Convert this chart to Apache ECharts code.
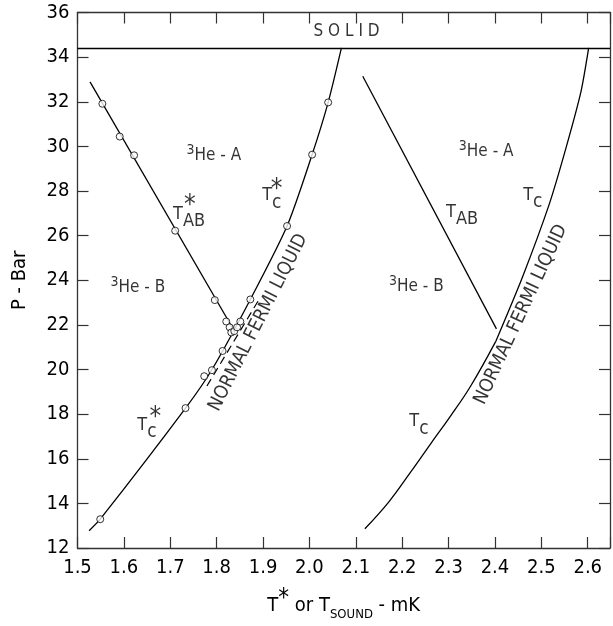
<!DOCTYPE html>
<html>
<head>
<meta charset="utf-8">
<script src="https://cdn.jsdelivr.net/npm/echarts@6/dist/echarts.min.js"></script>
<style>
  html, body { margin: 0; padding: 0; background: #fff; }
  #chart { width: 613px; height: 626px; }
</style>
</head>
<body>
<div id="chart"></div>
<script>
// phase diagram of 3He: P (bar) against T* or T_sound (mK)
var solidP = 34.41;

var tabStarLine = [[1.527, 32.89], [1.8365, 21.78]];
var tcStarLine = [
  [1.525, 12.77], [1.549, 13.29], [1.733, 18.27], [1.79, 20.0],
  [1.8726, 23.14], [1.9518, 26.43], [2.0058, 29.63], [2.0404, 31.97], [2.069, 34.41]
];
var dashedLine = [[1.779, 19.26], [1.894, 23.23]];
var measured = [
  [1.5536, 31.91], [1.591, 30.44], [1.622, 29.6], [1.7106, 26.22], [1.796, 23.11],
  [1.8207, 22.15], [1.828, 21.89], [1.8315, 21.66], [1.838, 21.72], [1.844, 21.89],
  [1.851, 22.15], [1.8726, 23.14], [1.9518, 26.43], [2.0058, 29.63], [2.0404, 31.97],
  [1.8128, 20.83], [1.7898, 19.97], [1.7732, 19.70], [1.7329, 18.27], [1.549, 13.29]
];

var tabLine = [[2.115, 33.14], [2.4032, 21.82]];
var tcLowLine = [
  [2.1195, 12.86], [2.1713, 14.07], [2.2181, 15.40], [2.2613, 16.67],
  [2.3045, 17.92], [2.3477, 19.26], [2.4017, 21.26]
];
var tcHighLine = [
  [2.4017, 21.26], [2.4594, 24.15], [2.5169, 27.40], [2.553, 29.92], [2.5853, 32.44], [2.602, 34.41]
];

// annotation anchors [T, P, which text]
var textSpots = [
  [2.080, 35.15, 'solid'],
  [1.794, 29.58, 'heA'], [2.381, 29.76, 'heA'],
  [1.630, 23.68, 'heB'], [2.2306, 23.72, 'heB'],
  [1.7406, 26.80, 'tAB'], [2.3292, 26.90, 'tAB'],
  [1.919, 27.63, 'tc'], [1.6497, 17.36, 'tc'],
  [2.4817, 27.64, 'tc'], [2.236, 17.50, 'tc'],
  [1.7423, 27.57, 'star'], [1.929, 28.31, 'star'], [1.6676, 18.10, 'star'],
  [1.8898, 22.10, 'nflLeft'], [2.456, 22.46, 'nflRight']
];

var FONT = '"Liberation Sans Narrow", "DejaVu Sans Condensed", "Liberation Sans", sans-serif';
var ink = '#000';
var frame = '#333';

var rich = {
  n: { fontFamily: FONT, fontSize: 17, color: ink },
  sup: { fontFamily: FONT, fontSize: 14, color: ink, padding: [0, 0, 11, 0] },
  t: { fontFamily: FONT, fontSize: 18, color: ink, padding: [0, 0, 7, 0] },
  sub: { fontFamily: FONT, fontSize: 18, color: ink, padding: [7, 0, 0, 0] },
  subc: { fontFamily: FONT, fontSize: 19, color: ink, padding: [7, 0, 0, 0] },
  star: { fontFamily: FONT, fontSize: 26, color: ink }
};

var textStyles = {
  solid: { formatter: 'S O L I D', fontSize: 17 },
  heA: { formatter: '{sup|3}{n|He - A}' },
  heB: { formatter: '{sup|3}{n|He - B}' },
  tAB: { formatter: '{t|T}{sub|AB}' },
  tc: { formatter: '{t|T}{subc|c}' },
  star: { formatter: '{star|*}', offset: [0, 6] },
  nflLeft: { formatter: 'NORMAL FERMI LIQUID', fontSize: 19, rotate: 63 },
  nflRight: { formatter: 'NORMAL FERMI LIQUID', fontSize: 19, rotate: 65 }
};

var chart = echarts.init(document.getElementById('chart'), null, { renderer: 'canvas' });

function lineSeries(data, extra) {
  var s = {
    type: 'line',
    data: data,
    symbol: 'none',
    lineStyle: { color: ink, width: 1.3 },
    silent: true,
    z: 3
  };
  for (var k in extra) s[k] = extra[k];
  return s;
}

var tickStyle = { inside: true, length: 11, lineStyle: { color: frame, width: 1.2 } };
var axisLineStyle = { show: true, lineStyle: { color: frame, width: 1.3 } };

chart.setOption({
  animation: false,
  backgroundColor: '#fff',
  grid: { left: 77.5, right: 2.5, top: 12.5, bottom: 73 },
  xAxis: [{
    type: 'value', min: 1.5, max: 2.648, interval: 0.1,
    axisLine: axisLineStyle, axisTick: tickStyle, splitLine: { show: false },
    axisLabel: {
      fontFamily: FONT, fontSize: 20, color: ink, margin: 10,
      formatter: function (v) {
        var r = Math.round(v * 10) / 10;
        return (Math.abs(r - v) < 1e-6 && r <= 2.6 + 1e-9) ? r.toFixed(1) : '';
      }
    },
    name: '{t|T}{star|*}{n| or }{t|T}{sub|SOUND}{n| - mK}',
    nameLocation: 'middle',
    nameGap: 39,
    nameTextStyle: {
      rich: {
        t: { fontFamily: FONT, fontSize: 20, color: ink },
        n: { fontFamily: FONT, fontSize: 20, color: ink },
        star: { fontFamily: FONT, fontSize: 24, color: ink, padding: [0, 0, 14, 0] },
        sub: { fontFamily: FONT, fontSize: 13, color: ink, padding: [17, 0, 0, 0] }
      }
    }
  }, {
    type: 'value', position: 'top', min: 1.5, max: 2.648, interval: 0.1,
    axisLine: axisLineStyle, axisTick: tickStyle, splitLine: { show: false },
    axisLabel: { show: false }
  }],
  yAxis: [{
    type: 'value', min: 12, max: 36, interval: 2,
    axisLine: axisLineStyle, axisTick: tickStyle, splitLine: { show: false },
    axisLabel: { fontFamily: FONT, fontSize: 20, color: ink, margin: 8 },
    name: 'P - Bar',
    nameLocation: 'middle',
    nameGap: 48,
    nameTextStyle: { fontFamily: FONT, fontSize: 20, color: ink }
  }, {
    type: 'value', position: 'right', min: 12, max: 36, interval: 2,
    axisLine: axisLineStyle, axisTick: tickStyle, splitLine: { show: false },
    axisLabel: { show: false }
  }],
  series: [
    lineSeries(tcStarLine, { smooth: 0.25,
      markLine: {
        silent: true, symbol: 'none', animation: false,
        label: { show: false },
        lineStyle: { color: ink, width: 1.3, type: 'solid' },
        data: [{ yAxis: solidP }]
      }
    }),
    lineSeries(tabStarLine),
    lineSeries(dashedLine, { lineStyle: { color: ink, width: 1.2, type: [8, 5] } }),
    lineSeries(tabLine),
    lineSeries(tcLowLine, { smooth: 0.4 }),
    lineSeries(tcHighLine, { smooth: 0.25 }),
    {
      type: 'scatter',
      data: measured,
      symbol: 'circle',
      symbolSize: 7,
      itemStyle: { color: '#fff', borderColor: ink, borderWidth: 1 },
      silent: true,
      z: 5
    },
    {
      type: 'scatter',
      silent: true,
      z: 6,
      symbolSize: 1,
      itemStyle: { color: 'transparent' },
      data: textSpots.map(function (s) {
        var st = textStyles[s[2]];
        return {
          value: [s[0], s[1]],
          label: {
            show: true,
            position: 'inside',
            formatter: st.formatter,
            rotate: st.rotate || 0,
            offset: st.offset || [0, 0],
            fontFamily: FONT,
            fontSize: st.fontSize || 18,
            color: ink,
            rich: rich
          }
        };
      })
    }
  ]
});
window.addEventListener('resize', function () { chart.resize(); });
</script>
</body>
</html>
